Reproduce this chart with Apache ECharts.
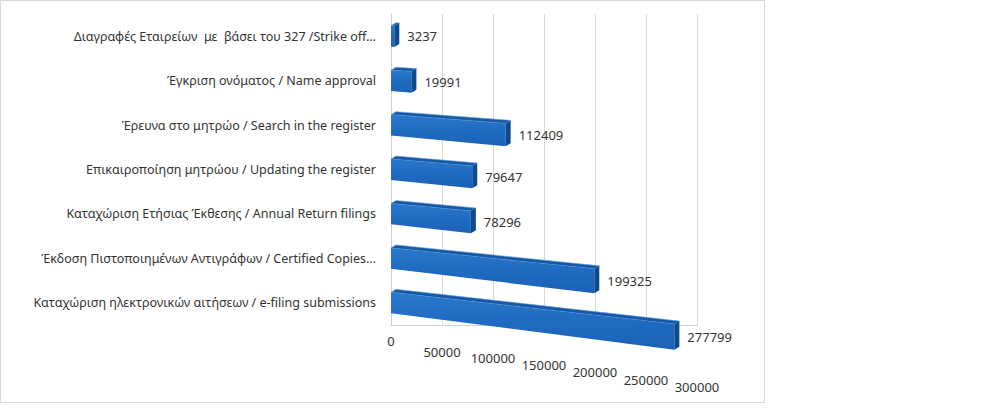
<!DOCTYPE html>
<html>
<head>
<meta charset="utf-8">
<script src="https://cdn.jsdelivr.net/npm/echarts@6/dist/echarts.min.js"></script>
<style>
  html, body { margin: 0; padding: 0; background: #fff; }
  #chartDiv { width: 986px; height: 411px; }
</style>
</head>
<body>
<div id="chartDiv"></div>
<script>
// categories, top to bottom as shown
var categories = [
    'Διαγραφές Εταιρείων  με  βάσει του 327 /Strike off…',
    'Έγκριση ονόματος / Name approval',
    'Έρευνα στο μητρώο / Search in the register',
    'Επικαιροποίηση μητρώου / Updating the register',
    'Καταχώριση Ετήσιας Έκθεσης / Annual Return filings',
    'Έκδοση Πιστοποιημένων Αντιγράφων / Certified Copies…',
    'Καταχώριση ηλεκτρονικών αιτήσεων / e-filing submissions'
];
var values = [3237, 19991, 112409, 79647, 78296, 199325, 277799];
var xTicks = [0, 50000, 100000, 150000, 200000, 250000, 300000];

var chartDiv;

function renderBar(params, api) {
    var v = api.value(0);
    var idx = api.value(1);
    var p0 = api.coord([0, idx]);
    var p1 = api.coord([v, idx]);
    var band = api.size([0, 1])[1];
    var h = band * 0.47;
    var len = p1[0] - p0[0];
    // fake perspective: bars drop to the right, more so lower down
    var slope = 0.06 + p0[1] * 0.0002;
    var dy = len * slope;
    var hr = h * (1 + len / 1200);
    var d = 5, up = 3;
    var x0 = p0[0], x1 = p1[0];
    var yt0 = p0[1] - h / 2, yb0 = p0[1] + h / 2;
    var yt1 = p0[1] + dy - hr / 2, yb1 = p0[1] + dy + hr / 2;
    return {
        type: 'group',
        children: [
            {
                type: 'polygon',
                shape: {points: [[x0, yt0], [x1, yt1], [x1 + d, yt1 - up], [x0 + d, yt0 - up]]},
                style: {fill: '#1459a6', stroke: '#6fa3dc', lineWidth: 0.6}
            },
            {
                type: 'polygon',
                shape: {points: [[x0, yt0], [x1, yt1], [x1, yb1], [x0, yb0]]},
                style: {
                    fill: new echarts.graphic.LinearGradient(0, 0, 0, 1, [
                        {offset: 0, color: '#2a78cc'},
                        {offset: 0.5, color: '#1f6bc2'},
                        {offset: 1, color: '#1a62b6'}
                    ])
                }
            },
            {
                type: 'polygon',
                shape: {points: [[x1, yt1], [x1 + d, yt1 - up], [x1 + d, yb1 - up], [x1, yb1]]},
                style: {fill: '#0e4a8e'}
            },
            {
                type: 'text',
                style: {
                    text: String(v),
                    x: x1 + d + 8,
                    y: p0[1] + dy,
                    verticalAlign: 'middle',
                    align: 'left',
                    fill: '#333333',
                    font: '13px "Noto Sans", sans-serif'
                }
            }
        ]
    };
}

// staggered tick labels, stepping down like the tilted floor
var tickRich = {};
var tickPad = [0, 11, 17, 24, 31, 39, 46];
tickPad.forEach(function (p, i) {
    tickRich['t' + i] = {padding: [p, 0, 0, 0], fontSize: 13, color: '#333333', fontFamily: 'Noto Sans'};
});

chartDiv = echarts.init(document.getElementById('chartDiv'), null, {renderer: 'svg'});
var option = {
    animation: false,
    graphic: [{
        type: 'rect',
        shape: {x: 0.5, y: 0.5, width: 764, height: 402},
        style: {fill: 'none', stroke: '#d9d9d9', lineWidth: 1},
        silent: true
    }],
    grid: {left: 391, right: 289, top: 14, bottom: 86},
    xAxis: {
        type: 'value',
        min: 0,
        max: 300000,
        interval: 50000,
        axisLine: {show: true, lineStyle: {color: '#d0d0d0'}},
        axisTick: {show: false},
        splitLine: {show: true, lineStyle: {color: '#d9d9d9'}},
        axisLabel: {
            margin: 9,
            formatter: function (val) {
                var i = xTicks.indexOf(val);
                return '{t' + i + '|' + val + '}';
            },
            rich: tickRich
        }
    },
    yAxis: {
        type: 'category',
        inverse: true,
        data: categories,
        axisLine: {show: true, lineStyle: {color: '#d0d0d0'}},
        axisTick: {show: false},
        axisLabel: {
            margin: 15,
            color: '#333333',
            fontSize: 12.5,
            fontFamily: 'Noto Sans'
        }
    },
    series: [{
        type: 'custom',
        renderItem: renderBar,
        encode: {x: 0, y: 1},
        data: values.map(function (v, i) { return [v, i]; })
    }]
};
chartDiv.setOption(option);
</script>
</body>
</html>
